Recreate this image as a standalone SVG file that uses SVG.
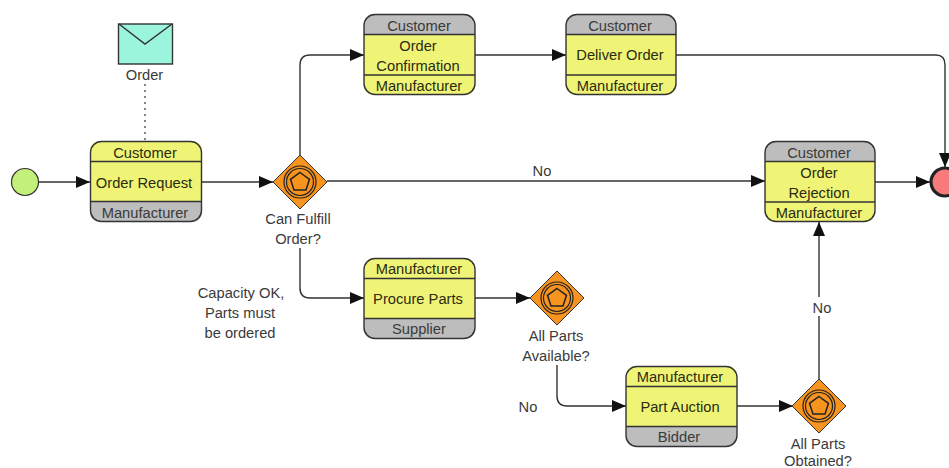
<svg xmlns="http://www.w3.org/2000/svg" width="949" height="468" viewBox="0 0 949 468">
<style>
text{font-family:"Liberation Sans",Arial,sans-serif;font-size:14.7px;fill:#3a3a3a;text-anchor:middle;transform:translateY(.6px)}
.t{fill:#2b2b10}
.n{fill:#eff477}
.s{fill:none;stroke:#333;stroke-width:1.4}
.c{fill:none;stroke:#333;stroke-width:1.4}
.o{fill:#bdbdbd}
.gw{fill:#f79420;stroke:#333;stroke-width:1}
.r{fill:none;stroke:#222;stroke-width:1.2}
</style>
<defs>
<marker id="a" markerUnits="userSpaceOnUse" markerWidth="15" markerHeight="13" refX="14" refY="6" orient="auto"><path d="M0 0L14 6L0 12Z" fill="#111"/></marker>
<g id="gw"><path class="gw" d="M0-27L27 0L0 27L-27 0Z"/><circle class="r" r="16"/><circle class="r" r="13.500"/><path d="M0-9.500L9.500-2.700L6 8H-6L-9.500-2.700Z" fill="none" stroke="#222" stroke-width="1.5"/></g>
</defs>
<g id="connectors">
<path class="c" marker-end="url(#a)" d="M39 182H90"/>
<path class="c" marker-end="url(#a)" d="M202 182H273"/>
<path class="c" marker-end="url(#a)" d="M300 155V65Q300 55 310 55H364"/>
<path class="c" marker-end="url(#a)" d="M475 55H566"/>
<path class="c" marker-end="url(#a)" d="M676 55H936Q945 55 945 65V167"/>
<path class="c" marker-end="url(#a)" d="M327 181H765"/>
<path class="c" marker-end="url(#a)" d="M875 182H930"/>
<path class="c" marker-end="url(#a)" d="M300 248V288Q300 298 310 298H364"/>
<path class="c" marker-end="url(#a)" d="M475 298H530"/>
<path class="c" marker-end="url(#a)" d="M557 365V396Q557 406 567 406H626"/>
<path class="c" marker-end="url(#a)" d="M737 406H793"/>
<path class="c" d="M819 380V316"/>
<path class="c" marker-end="url(#a)" d="M819 297V222"/>
<path d="M145 84V141" fill="none" stroke="#333" stroke-width="1.200" stroke-dasharray="2 4"/>
</g>
<g id="start"><circle cx="25" cy="182" r="13.500" fill="#c3f07a" stroke="#333" stroke-width="1.200"/></g>
<g id="end"><circle cx="945" cy="182" r="14" fill="#f77b7b" stroke="#222" stroke-width="3.200"/></g>
<g id="order"><rect x="118.500" y="24" width="54" height="40" fill="#9af5dc" stroke="#333" stroke-width="1.400"/><path d="M119 24L145 44L172 24" fill="none" stroke="#333" stroke-width="1.400"/><text x="144.500" y="79">Order</text></g>

<g id="order-request">
<path class="n" d="M101 141H191Q202 141 202 152V201H90V152Q90 141 101 141Z"/>
<path class="o" d="M90 201H202V211Q202 222 191 222H101Q90 222 90 211Z"/>
<rect class="s" x="90.500" y="141.500" width="111" height="80" rx="11"/><path class="s" d="M90 161.500H202M90 201.500H202"/>
<text class="t" x="145" y="157">Customer</text><text class="t" x="144" y="187">Order Request</text><text x="145" y="217">Manufacturer</text>
</g>
<g id="order-confirmation">
<path class="o" d="M375 14H464Q475 14 475 25V35H364V25Q364 14 375 14Z"/>
<path class="n" d="M364 35H475V85Q475 95 464 95H375Q364 95 364 85Z"/>
<rect class="s" x="364" y="14.500" width="111" height="80" rx="11"/><path class="s" d="M364 34.500H475M364 75H475"/>
<text x="419" y="30">Customer</text><text class="t" x="418" y="50">Order</text><text class="t" x="418" y="70">Confirmation</text><text class="t" x="419" y="90">Manufacturer</text>
</g>
<g id="deliver-order">
<path class="o" d="M577 14H665Q676 14 676 25V35H566V25Q566 14 577 14Z"/>
<path class="n" d="M566 35H676V85Q676 95 665 95H577Q566 95 566 85Z"/>
<rect class="s" x="566" y="14.500" width="110" height="80" rx="11"/><path class="s" d="M566 34.500H676M566 75H676"/>
<text x="620" y="30">Customer</text><text class="t" x="620" y="59">Deliver Order</text><text class="t" x="620" y="90">Manufacturer</text>
</g>
<g id="order-rejection">
<path class="o" d="M776 141H864Q875 141 875 152V162H765V152Q765 141 776 141Z"/>
<path class="n" d="M765 162H875V211Q875 222 864 222H776Q765 222 765 211Z"/>
<rect class="s" x="765" y="141.500" width="110" height="80" rx="11"/><path class="s" d="M765 161.500H875M765 202H875"/>
<text x="819" y="157">Customer</text><text class="t" x="819" y="177">Order</text><text class="t" x="819" y="197">Rejection</text><text class="t" x="819" y="217">Manufacturer</text>
</g>
<g id="procure-parts">
<path class="n" d="M375 258H464Q475 258 475 269V318H364V269Q364 258 375 258Z"/>
<path class="o" d="M364 318H475V328Q475 339 464 339H375Q364 339 364 328Z"/>
<rect class="s" x="364" y="258.500" width="111" height="80" rx="11"/><path class="s" d="M364 278.500H475M364 318.500H475"/>
<text class="t" x="419" y="273">Manufacturer</text><text class="t" x="418" y="303">Procure Parts</text><text x="419" y="333">Supplier</text>
</g>
<g id="part-auction">
<path class="n" d="M637 366H726Q737 366 737 377V426H626V377Q626 366 637 366Z"/>
<path class="o" d="M626 426H737V436Q737 447 726 447H637Q626 447 626 436Z"/>
<rect class="s" x="626" y="366.500" width="111" height="80" rx="11"/><path class="s" d="M626 386.500H737M626 426.500H737"/>
<text class="t" x="680" y="381">Manufacturer</text><text class="t" x="680" y="411">Part Auction</text><text x="679" y="441">Bidder</text>
</g>
<g id="gw-fulfill"><use href="#gw" x="300" y="182"/><text x="298" y="223">Can Fulfill</text><text x="298" y="243">Order?</text></g>
<g id="gw-available"><use href="#gw" x="557" y="298"/><text x="556" y="340">All Parts</text><text x="556" y="360">Available?</text></g>
<g id="gw-obtained"><use href="#gw" x="819" y="406"/><text x="818" y="448">All Parts</text><text x="818" y="465.500">Obtained?</text></g>
<g id="labels">
<text x="542" y="175">No</text><text x="241" y="297">Capacity OK,</text><text x="240" y="317">Parts must</text><text x="240" y="337">be ordered</text>
<text x="528" y="411">No</text><text x="822" y="312">No</text>
</g>
</svg>
